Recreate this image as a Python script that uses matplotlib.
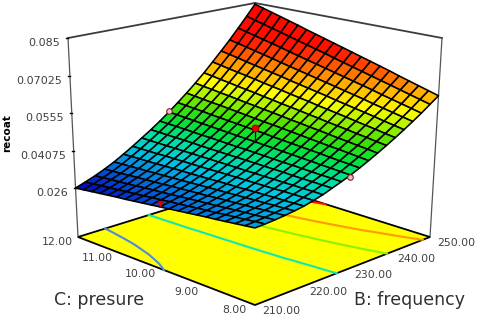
import numpy as np
import matplotlib
matplotlib.use("Agg")
import matplotlib.pyplot as plt
from matplotlib.collections import PolyCollection
from matplotlib.colors import LinearSegmentedColormap, Normalize
from contourpy import contour_generator

# ---- data ----
frequency = np.arange(210, 252, 2)            # B
pressure = np.arange(8, 12.2, 0.2)            # C
# response x 10000; rows: C = 8 .. 12, columns: B = 210 .. 250
response_e4 = [
[338,340,343,347,352,358,367,377,390,403,417,433,450,468,487,507,528,550,573,598,623],
[334,337,340,345,350,357,367,378,391,405,419,436,454,473,492,513,535,558,582,608,634],
[330,333,337,343,349,356,367,378,392,406,422,439,458,477,498,520,542,566,591,618,645],
[326,330,335,340,347,356,367,379,393,408,424,442,462,482,503,526,550,574,600,628,656],
[322,327,332,338,346,355,366,379,394,410,427,446,465,486,509,532,557,582,609,638,667],
[319,323,329,336,344,354,366,380,396,412,429,449,469,491,514,539,564,591,619,648,679],
[315,320,326,334,343,353,366,380,397,413,432,452,473,496,519,545,571,599,628,658,690],
[311,317,323,332,341,352,366,381,398,415,434,455,477,500,525,551,578,607,637,668,701],
[307,313,321,329,340,352,366,381,399,417,437,458,481,505,530,557,586,615,646,678,712],
[303,310,318,327,338,351,366,382,400,419,439,461,485,509,536,564,593,623,655,688,723],
[299,307,315,325,337,350,366,383,401,421,442,465,489,514,541,570,600,631,664,698,734],
[295,303,312,323,335,349,365,383,402,422,444,468,492,519,546,576,607,639,673,709,745],
[291,300,309,321,333,348,365,384,403,424,446,471,496,523,552,583,614,647,682,719,756],
[287,296,307,318,332,348,365,384,404,426,449,474,500,528,557,589,622,655,691,729,767],
[283,293,304,316,330,347,365,385,405,428,451,477,504,532,563,595,629,663,700,739,778],
[280,290,301,314,329,346,365,385,407,429,454,480,508,537,568,602,636,672,710,749,790],
[276,286,298,312,327,345,365,386,408,431,456,483,512,542,573,608,643,680,719,759,801],
[272,283,295,310,326,344,364,386,409,433,459,487,515,546,579,614,650,688,728,769,812],
[268,280,293,307,324,344,364,387,410,435,461,490,519,551,584,620,658,696,737,779,823],
[264,276,290,305,323,343,364,387,411,436,464,493,523,555,590,627,665,704,746,789,834],
[260,273,287,303,321,342,364,388,412,438,466,496,527,560,595,633,672,712,755,799,845],
]
z_ticks = [0.026, 0.04075, 0.0555, 0.07025, 0.085]
z_tick_labels = ["0.026", "0.04075", "0.0555", "0.07025", "0.085"]
b_ticks = [210, 220, 230, 240, 250]
c_ticks = [8, 9, 10, 11, 12]
contour_levels = [0.03, 0.04, 0.05, 0.06, 0.075]
contour_colors = ["#4a8ce0", "#10e8b0", "#8cf000", "#ff9a00", "#ff1000"]
design_b = [230, 230, 210, 230]
design_c = [12, 8, 10, 10]
design_z = [0.0470, 0.0408, 0.0310, 0.0496]
design_surface_z = 0.0441
color_z = [0.026, 0.029, 0.032, 0.036, 0.040, 0.044, 0.049, 0.053, 0.057, 0.0625, 0.067, 0.0725, 0.085]
color_hex = ["#0000c0", "#0040d0", "#0080e0", "#00c8e0", "#00e0a0", "#00e040", "#40e000",
             "#a0f000", "#ffff00", "#ffb000", "#ff6000", "#ff1000", "#ff0000"]

# ---- projection of the box onto the page (pixel coordinates) ----
Z0, Z1 = 0.00676, 0.085
FLOOR = [(255, 305), (430, 237), (255, 182), (78, 237)]
TOP = [(255, 82), (442, 38), (255, 3), (68, 38)]


def homography(q):
    (x0, y0), (x1, y1), (x2, y2), (x3, y3) = q
    sx, sy = x0 - x1 + x2 - x3, y0 - y1 + y2 - y3
    dx1, dy1, dx2, dy2 = x1 - x2, y1 - y2, x3 - x2, y3 - y2
    den = dx1 * dy2 - dx2 * dy1
    g = (sx * dy2 - dx2 * sy) / den
    h = (dx1 * sy - sx * dy1) / den
    return (x1 - x0 + g * x1, x3 - x0 + h * x3, x0,
            y1 - y0 + g * y1, y3 - y0 + h * y3, y0, g, h)


HF, HT = homography(FLOOR), homography(TOP)


def apply_h(H, u, v):
    a, b, c, d, e, f, g, h = H
    w = g * u + h * v + 1
    return (a * u + b * v + c) / w, (d * u + e * v + f) / w


def project(b, c, z=Z0):
    u = (np.asarray(b, float) - 210) / 40
    v = (np.asarray(c, float) - 8) / 4
    t = (np.asarray(z, float) - Z0) / (Z1 - Z0)
    xf, yf = apply_h(HF, u, v)
    xt, yt = apply_h(HT, u, v)
    return xf + (xt - xf) * t, yf + (yt - yf) * t


# ---- drawing ----
Z = np.array(response_e4) / 1e4
B, C = np.meshgrid(frequency, pressure)

fig = plt.figure(figsize=(4.8, 3.17), dpi=100)
ax = fig.add_axes([0, 0, 1, 1])
ax.set_xlim(0, 480)
ax.set_ylim(317, 0)
ax.axis("off")

GREY = "#3c3c3c"
# back walls
for p, q in [((210, 12), (250, 12)), ((250, 12), (250, 8))]:
    x, y = project([p[0], q[0]], [p[1], q[1]], Z1)
    ax.plot(x, y, color=GREY, lw=1.3, zorder=1)
for b, c in [(210, 12), (250, 8)]:
    x, y = project([b, b], [c, c], [Z0, Z1])
    ax.plot(x, y, color="#555555", lw=0.9, zorder=1)

# floor
fx, fy = project([210, 250, 250, 210, 210], [8, 8, 12, 12, 8])
ax.fill(fx, fy, facecolor="#ffff00", edgecolor="black", lw=1.3, zorder=2)

# floor contours
gen = contour_generator(frequency, pressure, Z)
for level, col in zip(contour_levels, contour_colors):
    for line in gen.lines(level):
        x, y = project(line[:, 0], line[:, 1])
        ax.plot(x, y, color=col, lw=1.5, zorder=3)

# surface
span = color_z[-1] - color_z[0]
cmap = LinearSegmentedColormap.from_list(
    "surf", [((z - color_z[0]) / span, c) for z, c in zip(color_z, color_hex)])
norm = Normalize(color_z[0], color_z[-1])
X, Y = project(B, C, Z)
polys, vals = [], []
ni, nj = Z.shape
for i in range(ni - 2, -1, -1):
    for j in range(nj - 2, -1, -1):
        polys.append([(X[i, j], Y[i, j]), (X[i, j + 1], Y[i, j + 1]),
                      (X[i + 1, j + 1], Y[i + 1, j + 1]), (X[i + 1, j], Y[i + 1, j])])
        vals.append(Z[i:i + 2, j:j + 2].mean())
pc = PolyCollection(polys, facecolors=cmap(norm(np.array(vals))),
                    edgecolors="black", linewidths=1.15, zorder=4)
ax.add_collection(pc)

# design points
sx, sy = project(design_b, design_c, design_z)
ax.plot(*project([230, 230], [10, 10], [design_surface_z, design_z[3]]),
        color="black", lw=0.9, zorder=5)
ax.plot(sx[:2], sy[:2], ls="", marker="o", ms=4, mfc="#f6c0c0", mec="#802020", mew=0.8, zorder=6)
ax.plot(sx[2], sy[2], ls="", marker="v", ms=4, mfc="#e80000", mec="#a00000", mew=0.4, zorder=6)
ax.plot(sx[3], sy[3], ls="", marker="o", ms=5, mfc="#e80000", mec="#800000", mew=0.6, zorder=6)

# tick labels
TXT = "#404040"
for zv, lab in zip(z_ticks, z_tick_labels):
    x, y = project(210, 12, zv)
    ax.plot([x, x - 1.5], [y, y], color="black", lw=1, zorder=2)
    ax.text(x - 8, y + 5, lab, ha="right", va="center", fontsize=8, color=TXT)
for bv in b_ticks:
    x, y = project(bv, 8)
    ax.text(x + 26, y + 6, f"{bv:.2f}", ha="center", va="center", fontsize=7.8, color=TXT)
for cv in c_ticks:
    x, y = project(210, cv)
    ax.text(x - 21, y + 5, f"{cv:.2f}", ha="center", va="center", fontsize=7.8, color=TXT)

# axis titles
ax.text(99, 300, "C: presure", ha="center", va="center", fontsize=12.5, color="#303030")
ax.text(410, 300, "B: frequency", ha="center", va="center", fontsize=12.5, color="#303030")
ax.text(7, 133, "recoat", rotation=90, ha="center", va="center", fontsize=7.5,
        fontweight="bold", color="black")

fig.savefig("out.png", dpi=100)
